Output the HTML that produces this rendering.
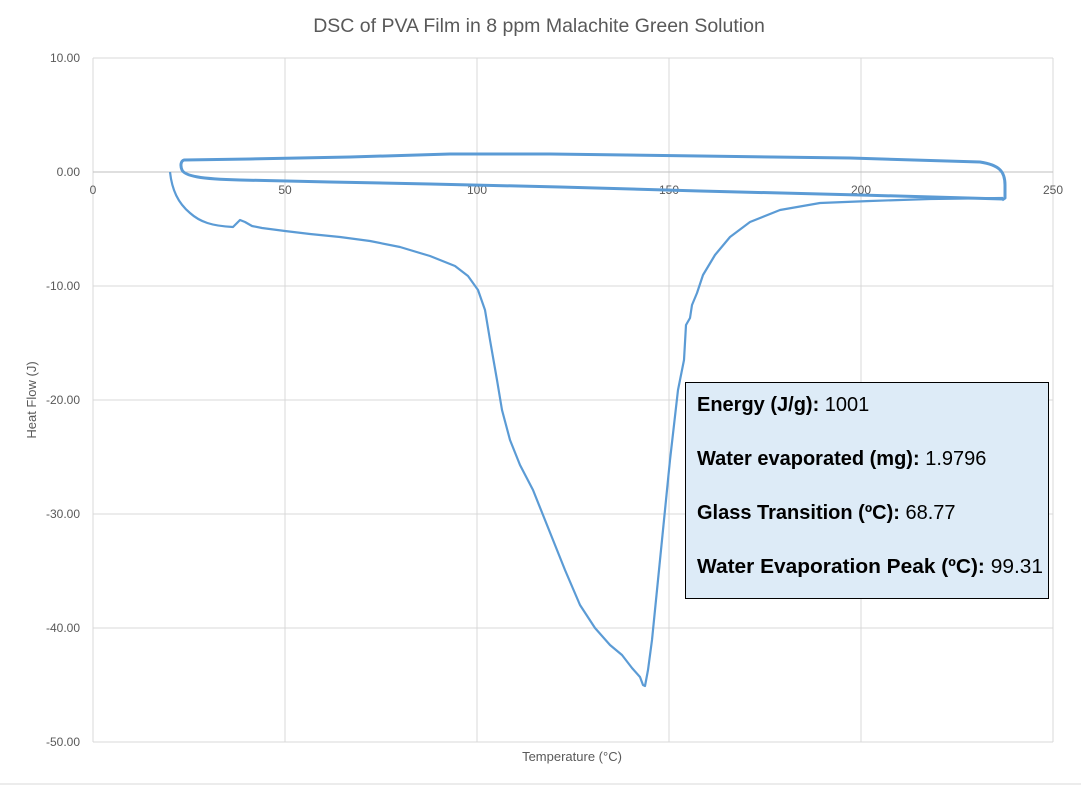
<!DOCTYPE html>
<html><head><meta charset="utf-8"><style>
body{margin:0;background:#fff;}
svg text{font-family:"Liberation Sans",sans-serif;}
</style></head><body>
<svg width="1081" height="785" xmlns="http://www.w3.org/2000/svg">
<rect width="1081" height="785" fill="#fff"/>
<g stroke="#d9d9d9" stroke-width="1">
<line x1="93" y1="58" x2="1053" y2="58"/><line x1="93" y1="286" x2="1053" y2="286"/>
<line x1="93" y1="400" x2="1053" y2="400"/><line x1="93" y1="514" x2="1053" y2="514"/>
<line x1="93" y1="628" x2="1053" y2="628"/><line x1="93" y1="742" x2="1053" y2="742"/>
<line x1="93" y1="58" x2="93" y2="742"/><line x1="285" y1="58" x2="285" y2="742"/>
<line x1="477" y1="58" x2="477" y2="742"/><line x1="669" y1="58" x2="669" y2="742"/>
<line x1="861" y1="58" x2="861" y2="742"/><line x1="1053" y1="58" x2="1053" y2="742"/>
</g>
<line x1="93" y1="172" x2="1053" y2="172" stroke="#bfbfbf"/>
<line x1="0" y1="784" x2="1081" y2="784" stroke="#d9d9d9"/>
<text x="539" y="32" text-anchor="middle" font-size="19.5" fill="#595959">DSC of PVA Film in 8 ppm Malachite Green Solution</text>
<g font-size="12" fill="#595959" text-anchor="end">
<text x="80" y="62">10.00</text><text x="80" y="176">0.00</text><text x="80" y="290">-10.00</text>
<text x="80" y="404">-20.00</text><text x="80" y="518">-30.00</text><text x="80" y="632">-40.00</text><text x="80" y="746">-50.00</text>
</g>
<g font-size="12" fill="#595959" text-anchor="middle">
<text x="93" y="194">0</text><text x="285" y="194">50</text><text x="477" y="194">100</text>
<text x="669" y="194">150</text><text x="861" y="194">200</text><text x="1053" y="194">250</text>
</g>
<text x="572" y="761" text-anchor="middle" font-size="13" fill="#595959">Temperature (°C)</text>
<text transform="translate(36,400) rotate(-90)" text-anchor="middle" font-size="13" fill="#595959">Heat Flow (J)</text>
<path fill="none" stroke="#5b9bd5" stroke-width="2.2" stroke-linejoin="round" d="M170,172 C172,190 178,203 190,213 C200,222 212,226 233,227 L240,220 L245,222 L252,226 L262,228 L285,231 L310,234 L340,237 L370,241 L400,247 L430,256 L455,266 L468,276 L478,290 L485,310 L490,340 L497,380 L502,410 L510,440 L520,465 L533,490 L545,520 L555,545 L565,570 L580,605 L595,628 L610,645 L622,655 L632,668 L640,677 L643,685 L645,686 L648,670 L652,640 L657,590 L663,530 L670,460 L678,390 L684,360 L686,325 L690,318 L692,305 L697,293 L703,275 L715,255 L730,237 L750,222 L780,210 L820,203 L870,201 L930,199 L1003,198"/>
<path fill="none" stroke="#5b9bd5" stroke-width="3" stroke-linejoin="round" d="M1003,199 L860,195 L700,191 L560,187 L430,184 L330,182 L240,180 C200,179 185,176 182,170 C180,165 181,161 184,160 L250,159 L350,157 L450,154 L550,154 L700,156 L850,158 L980,162 C1000,165 1005,172 1005,185 L1005,198 L1002,200"/>
<rect x="685.5" y="382.5" width="363" height="216" fill="#ddebf7" stroke="#000" stroke-width="1"/>
<g font-size="20" fill="#000" textLength="0">
<text x="697" y="411"><tspan font-weight="bold">Energy (J/g):</tspan> 1001</text>
<text x="697" y="465"><tspan font-weight="bold">Water evaporated (mg):</tspan> 1.9796</text>
<text x="697" y="519"><tspan font-weight="bold">Glass Transition (ºC):</tspan> 68.77</text>
<text x="697" y="573" textLength="346" lengthAdjust="spacingAndGlyphs"><tspan font-weight="bold">Water Evaporation Peak (ºC):</tspan> 99.31</text>
</g>
</svg>
</body></html>
